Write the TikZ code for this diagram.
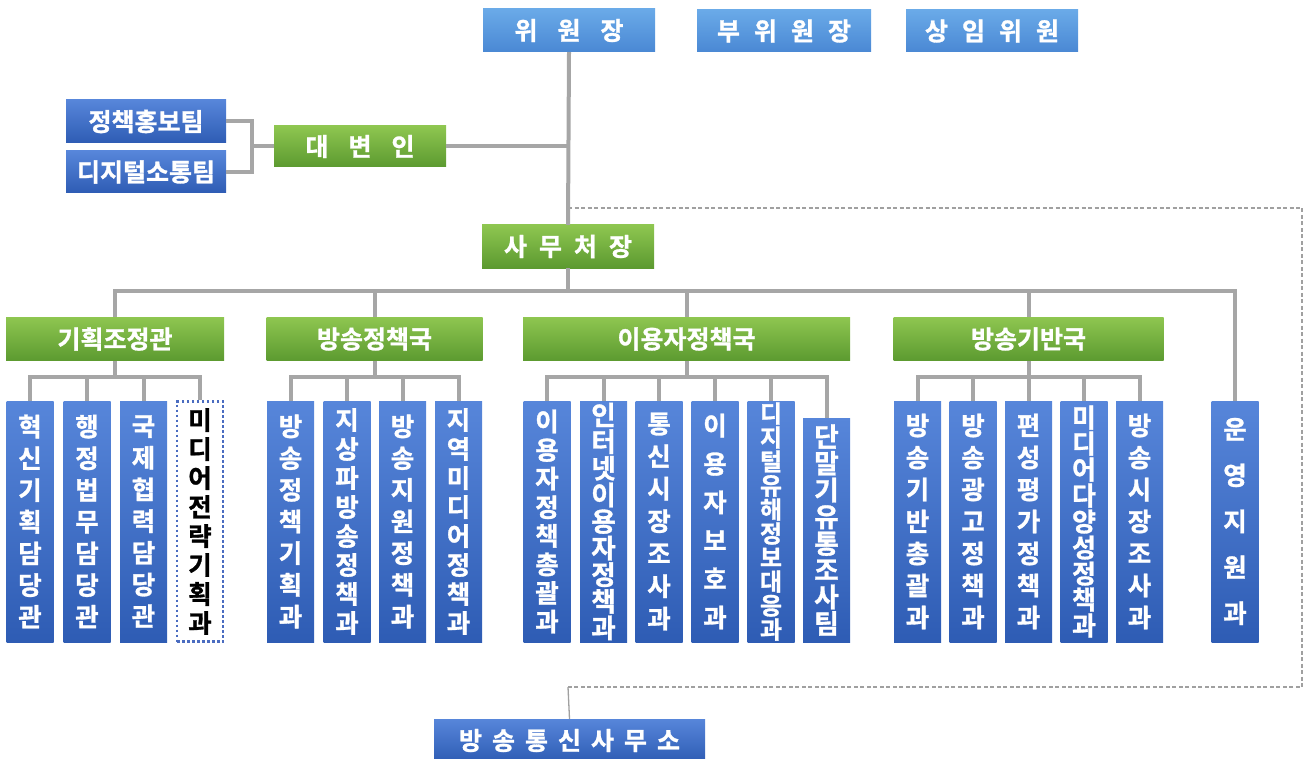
\documentclass[tikz,border=0pt]{standalone}
\usepackage{fontspec}
\setmainfont{Noto Sans CJK KR}[BoldFont=* Bold, BoldFeatures={FakeBold=1.2}]
\definecolor{tbA}{HTML}{6AAAE8}
\definecolor{tbB}{HTML}{4A88D4}
\definecolor{dbA}{HTML}{5786DA}
\definecolor{dbB}{HTML}{2E5CB4}
\definecolor{grA}{HTML}{8EC650}
\definecolor{grB}{HTML}{5C9A30}
\definecolor{ln}{HTML}{A6A6A6}
\definecolor{dl}{HTML}{A0A0A0}
\definecolor{dotb}{HTML}{4A6CC0}
\begin{document}
\begin{tikzpicture}[x=1pt,y=-1pt,
  base/.style={inner sep=0pt, text=white},
  topbox/.style={base, top color=tbA, bottom color=tbB, font=\bfseries\fontsize{25}{26}\selectfont},
  teambox/.style={base, top color=dbA, bottom color=dbB, font=\bfseries\fontsize{25}{26}\selectfont, minimum width=160},
  grbox/.style={base, top color=grA, bottom color=grB, font=\bfseries\fontsize{25}{26}\selectfont, minimum height=43},
  vb/.style={base, top color=dbA, bottom color=dbB, minimum width=47, minimum height=241, align=center, font=\bfseries\fontsize{25.5}{#1}\selectfont},
  vbs/.style={base, top color=dbA, bottom color=dbB, minimum width=47, minimum height=241, align=center, font=\bfseries\fontsize{#1}{#1}\selectfont},
  vdot/.style={inner sep=0pt, fill=white, draw=dotb, line width=2.5pt, dash pattern=on 2.5pt off 2.5pt, text=black, minimum width=46, minimum height=240, align=center, font=\bfseries\fontsize{25.5}{#1}\selectfont},
  conn/.style={draw=ln, line width=4pt},
  dconn/.style={draw=dl, line width=1.3pt, dash pattern=on 4pt off 2.5pt},
]
\clip (0,0) rectangle (1305,759);
% top
\node[topbox, minimum width=172, minimum height=43] (wj) at (569,30.5) {위\hspace{20pt}원\hspace{20pt}장};
\node[topbox, minimum width=174, minimum height=42] (bwj) at (784,31) {부\hspace{14pt}위\hspace{14pt}원\hspace{14pt}장};
\node[topbox, minimum width=172, minimum height=42] (siw) at (992,31) {상\hspace{14pt}임\hspace{14pt}위\hspace{14pt}원};
\node[teambox, minimum height=43] (t1) at (146,121.5) {정책홍보팀};
\node[teambox, minimum height=42] (t2) at (146,172) {디지털소통팀};
\node[grbox, minimum width=172, minimum height=41] (dbi) at (360,146.5) {대\hspace{20pt}변\hspace{20pt}인};
\node[grbox, minimum width=172] (smc) at (568,246.5) {사\hspace{12pt}무\hspace{12pt}처\hspace{12pt}장};
% green
\node[grbox, minimum width=218] (g1) at (115,339) {기획조정관};
\node[grbox, minimum width=216] (g2) at (374.5,339) {방송정책국};
\node[grbox, minimum width=327] (g3) at (686.5,339) {이용자정책국};
\node[grbox, minimum width=270] (g4) at (1028.5,339) {방송기반국};
% verticals g1
\node[vb=31.7] (a1) at (30,521.5) {혁\\신\\기\\획\\담\\당\\관};
\node[vb=31.7] (a2) at (87,521.5) {행\\정\\법\\무\\담\\당\\관};
\node[vb=31.7] (a3) at (143.5,521.5) {국\\제\\협\\력\\담\\당\\관};
\node[vdot=29] (a4) at (200,521.5) {미\\디\\어\\전\\략\\기\\획\\과};
% g2
\node[vb=31.7] (b1) at (290.5,521.5) {방\\송\\정\\책\\기\\획\\과};
\node[vb=29] (b2) at (347,521.5) {지\\상\\파\\방\\송\\정\\책\\과};
\node[vb=31.7] (b3) at (402.5,521.5) {방\\송\\지\\원\\정\\책\\과};
\node[vb=29] (b4) at (458.5,521.5) {지\\역\\미\\디\\어\\정\\책\\과};
% g3
\node[vb=28.6] (c1) at (547,521.5) {이\\용\\자\\정\\책\\총\\괄\\과};
\node[vbs=26.6] (c2) at (603.5,521.5) {인\\터\\넷\\이\\용\\자\\정\\책\\과};
\node[vb=32.5] (c3) at (659,521.5) {통\\신\\시\\장\\조\\사\\과};
\node[vb=38.4] (c4) at (715,521.5) {이\\용\\자\\보\\호\\과};
\node[vbs=24] (c5) at (771,521.5) {디\\지\\털\\유\\해\\정\\보\\대\\응\\과};
\node[vbs=26.7, minimum height=224] (c6) at (826.5,530) {단\\말\\기\\유\\통\\조\\사\\팀};
% g4
\node[vb=32] (d1) at (917.5,521.5) {방\\송\\기\\반\\총\\괄\\과};
\node[vb=32] (d2) at (973,521.5) {방\\송\\광\\고\\정\\책\\과};
\node[vb=32] (d3) at (1028.5,521.5) {편\\성\\평\\가\\정\\책\\과};
\node[vbs=26] (d4) at (1084,521.5) {미\\디\\어\\다\\양\\성\\정\\책\\과};
\node[vb=32] (d5) at (1139.5,521.5) {방\\송\\시\\장\\조\\사\\과};
% ops
\node[vb=46] (ops) at (1235,521.5) {운\\영\\지\\원\\과};
% office
\node[teambox, minimum width=271, minimum height=43] (ofc) at (569.5,740.5) {방\hspace{10pt}송\hspace{10pt}통\hspace{10pt}신\hspace{10pt}사\hspace{10pt}무\hspace{10pt}소};
% connectors
\coordinate (bus) at (568,291);
\coordinate (dA) at (568,208);
\coordinate (dB) at (1302,208);
\coordinate (dC) at (1302,687);
\coordinate (dD) at (568,687);
\draw[dconn] (dA) -- (dB) -- (dC) -- (dD);
\draw[draw=dl, line width=1.3pt] (dD) -- (ofc.north);
\draw[conn] (wj.south) -- (smc.north);
\draw[conn] (dbi.east) -- (dbi.east -| wj.south);
\draw[conn] (t1.east) -- ++(26,0) |- (t2.east);
\draw[conn] (dbi.west) -- ++(-23,0);
\draw[conn] (smc.south) -- (bus);
\draw[conn] (g1.north) -- (g1.north |- bus) -- (ops.north |- bus) -- (ops.north);
\draw[conn] (g2.north) -- (g2.north |- bus);
\draw[conn] (g3.north) -- (g3.north |- bus);
\draw[conn] (g4.north) -- (g4.north |- bus);
% sub buses
\coordinate (s1) at (115,377);
\draw[conn] (g1.south) -- (s1);
\draw[conn] (a1.north) -- (a1.north |- s1) -- (a4.north |- s1) -- (a4.north);
\draw[conn] (a2.north) -- (a2.north |- s1);
\draw[conn] (a3.north) -- (a3.north |- s1);
\coordinate (s2) at (374.5,377);
\draw[conn] (g2.south) -- (s2);
\draw[conn] (b1.north) -- (b1.north |- s2) -- (b4.north |- s2) -- (b4.north);
\draw[conn] (b2.north) -- (b2.north |- s2);
\draw[conn] (b3.north) -- (b3.north |- s2);
\coordinate (s3) at (686.5,377);
\draw[conn] (g3.south) -- (s3);
\draw[conn] (c1.north) -- (c1.north |- s3) -- (c6.north |- s3) -- (c6.north);
\draw[conn] (c2.north) -- (c2.north |- s3);
\draw[conn] (c3.north) -- (c3.north |- s3);
\draw[conn] (c4.north) -- (c4.north |- s3);
\draw[conn] (c5.north) -- (c5.north |- s3);
\coordinate (s4) at (1028.5,377);
\draw[conn] (g4.south) -- (s4);
\draw[conn] (d1.north) -- (d1.north |- s4) -- (d5.north |- s4) -- (d5.north);
\draw[conn] (d2.north) -- (d2.north |- s4);
\draw[conn] (d3.north) -- (d3.north |- s4);
\draw[conn] (d4.north) -- (d4.north |- s4);
\end{tikzpicture}
\end{document}
